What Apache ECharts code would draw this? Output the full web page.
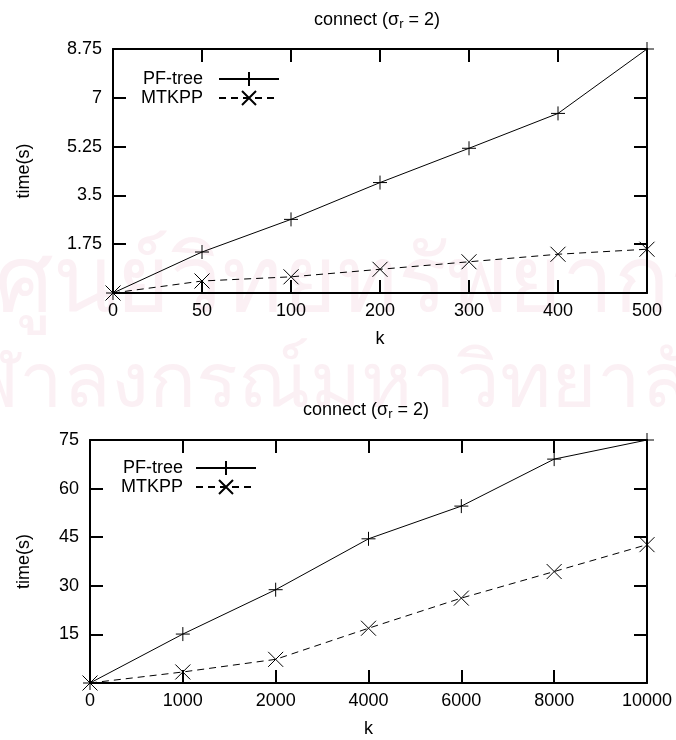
<!DOCTYPE html>
<html>
<head>
<meta charset="utf-8">
<script src="https://cdn.jsdelivr.net/npm/echarts@6/dist/echarts.min.js"></script>
<style>
  html, body { margin: 0; padding: 0; background: #fff; }
  #chart { width: 676px; height: 740px; }
</style>
</head>
<body>
<div id="chart"></div>
<script>
// Upper panel: k from 0 to 500
const kSmall = ['0', '50', '100', '200', '300', '400', '500'];
const pfTreeSmall = [0, 1.47, 2.64, 3.96, 5.19, 6.44, 8.75];
const mtkppSmall = [0, 0.43, 0.58, 0.85, 1.12, 1.39, 1.57];

// Lower panel: k from 0 to 10000
const kLarge = ['0', '1000', '2000', '4000', '6000', '8000', '10000'];
const pfTreeLarge = [0, 15.1, 28.8, 44.5, 54.6, 69.1, 75];
const mtkppLarge = [0, 3.4, 7.3, 16.9, 26.2, 34.4, 42.7];

const seriesNames = ['PF-tree', 'MTKPP'];
const panelTitle = 'connect (σ{s|r} = 2)';
const xName = 'k';
const yName = 'time(s)';
const stampLines = ['ศูนย์วิทยทรัพยากร', 'จุฬาลงกรณ์มหาวิทยาลัย'];

const FONT = '"Liberation Sans", Arial, Helvetica, sans-serif';
const INK = '#000';
const PLUS = 'path://M0,5L10,5M5,0L5,10';
const CROSS = 'path://M0,0L10,10M0,10L10,0';

const chart = echarts.init(document.getElementById('chart'));

function axisLine() {
  return { show: true, onZero: false, lineStyle: { color: INK, width: 2 } };
}
function tickIn() {
  return { show: true, inside: true, length: 13, interval: 0, lineStyle: { color: INK, width: 2 } };
}
function labelText(extra) {
  return Object.assign({ color: INK, fontSize: 18, fontFamily: FONT }, extra || {});
}

function xAxes(gridIndex, cats) {
  return [
    { type: 'category', gridIndex, data: cats, boundaryGap: false, position: 'bottom',
      axisLine: axisLine(), axisTick: tickIn(), axisLabel: labelText({ margin: 9, interval: 0 }),
      splitLine: { show: false }, name: xName, nameLocation: 'middle', nameGap: 37,
      nameTextStyle: labelText() },
    { type: 'category', gridIndex, data: cats, boundaryGap: false, position: 'top',
      axisLine: axisLine(), axisTick: tickIn(), axisLabel: { show: false }, splitLine: { show: false } }
  ];
}

function yAxes(gridIndex, max, step, gap) {
  return [
    { type: 'value', gridIndex, min: 0, max, interval: step, position: 'left',
      axisLine: axisLine(), axisTick: tickIn(), axisLabel: labelText({ margin: 11, showMinLabel: false }),
      splitLine: { show: false }, name: yName, nameLocation: 'middle', nameGap: gap, nameRotate: 90,
      nameTextStyle: labelText() },
    { type: 'value', gridIndex, min: 0, max, interval: step, position: 'right',
      axisLine: axisLine(), axisTick: tickIn(), axisLabel: { show: false }, splitLine: { show: false } }
  ];
}

function lineSeries(name, values, idx, dashed, symbol, size) {
  return {
    type: 'line', name, data: values, xAxisIndex: idx, yAxisIndex: idx,
    symbol, symbolSize: size,
    lineStyle: { color: INK, width: 1, type: dashed ? [7, 5] : 'solid' },
    itemStyle: { color: INK, borderColor: INK, borderWidth: 1 },
    emphasis: { disabled: true }, z: 3
  };
}

function legend(left, top, gapRight) {
  return {
    data: seriesNames, orient: 'vertical', left, top, align: 'right',
    itemWidth: 60, itemHeight: 17.5, itemGap: 1, selectedMode: false,
    textStyle: labelText({ padding: [0, gapRight, 0, 0] })
  };
}

function panelHeading(left, top) {
  return {
    text: panelTitle, left, top, padding: 0,
    textStyle: {
      fontSize: 18, fontWeight: 'normal', fontFamily: FONT, color: INK, lineHeight: 22,
      rich: { s: { fontSize: 13, lineHeight: 13, verticalAlign: 'bottom', fontFamily: FONT, color: INK } }
    }
  };
}

function stamp(text, left, top, size) {
  return {
    text, left, top, padding: 0, z: -1, silent: true,
    textStyle: { fontSize: size, lineHeight: size, fontWeight: 'normal',
      fontFamily: '"Noto Sans", sans-serif', color: 'rgba(205,60,120,0.08)' }
  };
}

chart.setOption({
  backgroundColor: '#fff',
  animation: false,
  title: [
    stamp(stampLines[0], -5, 239, 92),
    stamp(stampLines[1], -80, 346, 78),
    panelHeading(314, 9),
    panelHeading(303, 399)
  ],
  grid: [
    { left: 113, right: 29, top: 49, bottom: 447 },
    { left: 90, right: 29, top: 440, bottom: 57 }
  ],
  xAxis: [].concat(xAxes(0, kSmall), xAxes(1, kLarge)),
  yAxis: [].concat(yAxes(0, 8.75, 1.75, 80), yAxes(1, 75, 15, 57)),
  legend: [legend(136, 65, 11), legend(116, 454, 8)],
  series: [
    lineSeries(seriesNames[0], pfTreeSmall, 0, false, PLUS, 14),
    lineSeries(seriesNames[1], mtkppSmall, 0, true, CROSS, 15),
    lineSeries(seriesNames[0], pfTreeLarge, 2, false, PLUS, 14),
    lineSeries(seriesNames[1], mtkppLarge, 2, true, CROSS, 15)
  ]
});
</script>
</body>
</html>
